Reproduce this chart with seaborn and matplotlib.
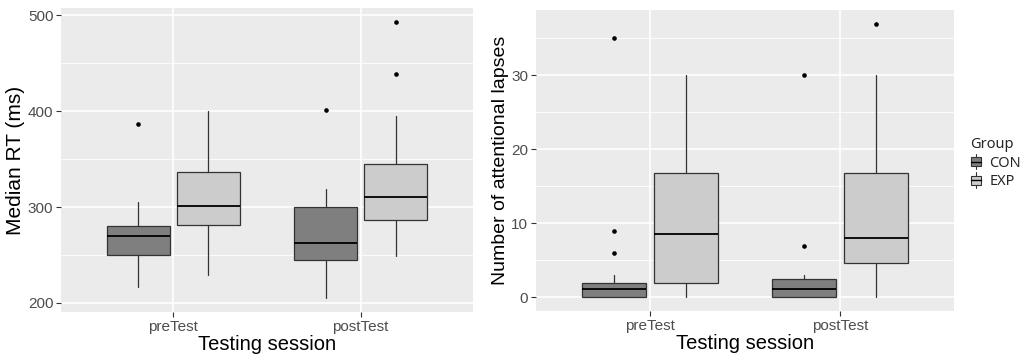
import matplotlib
matplotlib.use("Agg")
import matplotlib.pyplot as plt
from matplotlib.legend_handler import HandlerBase
from matplotlib.patches import Rectangle, Patch
from matplotlib.lines import Line2D
import numpy as np
import pandas as pd
import seaborn as sns

# ---------------- data ----------------
sessions = ["preTest", "postTest"]
groups = ["CON", "EXP"]
group_colors = ["#7F7F7F", "#CCCCCC"]

# order of boxes: preTest-CON, preTest-EXP, postTest-CON, postTest-EXP
rt_whislo = [217, 229, 205, 249]
rt_q1 = [250, 281, 245, 286]
rt_med = [270, 301, 263, 310]
rt_q3 = [280, 337, 300, 345]
rt_whishi = [305, 400, 319, 395]
rt_fliers = [[387], [], [401], [439, 493]]

lapse_whislo = [0, 0, 0, 0]
lapse_q1 = [0, 2, 0, 4.7]
lapse_med = [1.1, 8.5, 1.1, 8.05]
lapse_q3 = [2, 16.8, 2.5, 16.8]
lapse_whishi = [3, 30, 3, 30]
lapse_fliers = [[6, 9, 35], [], [7, 30], [37]]

rt_ticks = [200, 300, 400, 500]
lapse_ticks = [0, 10, 20, 30]

# ---------------- style ----------------
sns.set_theme(style="darkgrid", rc={
    "axes.facecolor": "#EBEBEB",
    "grid.color": "white",
})
plt.rcParams["font.family"] = ["Liberation Sans", "DejaVu Sans"]

fig = plt.figure(figsize=(10.21, 3.59), dpi=100)
ax1 = fig.add_axes([61 / 1021, 1 - 312 / 359, 412 / 1021, 304 / 359])
ax2 = fig.add_axes([536 / 1021, 1 - 311 / 359, 418 / 1021, 301 / 359])

dodge = 0.1875
box_w = 0.3375


def draw_panel(ax, whislo, q1, med, q3, whishi, fliers, ticks, ylabel, ylsize):
    stats = []
    positions = []
    colors = []
    flier_x, flier_y = [], []
    k = 0
    for si, s in enumerate(sessions):
        for gi, g in enumerate(groups):
            pos = si + 1 + (gi - 0.5) * 2 * dodge
            stats.append(dict(whislo=whislo[k], q1=q1[k], med=med[k], q3=q3[k],
                              whishi=whishi[k], fliers=[], label=f"{s}-{g}"))
            positions.append(pos)
            colors.append(group_colors[gi])
            for f in fliers[k]:
                flier_x.append(pos)
                flier_y.append(f)
            k += 1
    bp = ax.bxp(stats, positions=positions, widths=box_w, patch_artist=True,
                showfliers=False, showcaps=False,
                boxprops=dict(edgecolor="#333333", linewidth=0.9),
                whiskerprops=dict(color="#333333", linewidth=0.9),
                medianprops=dict(color="black", linewidth=1.3),
                manage_ticks=False, zorder=3)
    for patch, c in zip(bp["boxes"], colors):
        patch.set_facecolor(c)
    sns.scatterplot(x=flier_x, y=flier_y, ax=ax, color="black", s=11,
                    linewidth=0, legend=False, zorder=4)

    ax.set_xlim(0.4, 2.6)
    lo = min(whislo + [v for f in fliers for v in f])
    hi = max(whishi + [v for f in fliers for v in f])
    pad = (hi - lo) * 0.05
    ax.set_ylim(lo - pad, hi + pad)
    ax.set_xticks([1, 2])
    ax.set_xticklabels(sessions)
    ax.set_yticks(ticks)
    step = ticks[1] - ticks[0]
    minors = [t + step / 2 for t in ticks if lo - pad < t + step / 2 < hi + pad]
    ax.set_yticks(minors, minor=True)
    ax.grid(True, which="major", color="white", linewidth=1.2)
    ax.grid(True, which="minor", axis="y", color="white", linewidth=0.6)
    ax.set_axisbelow(True)
    for sp in ax.spines.values():
        sp.set_visible(False)
    ax.tick_params(axis="both", which="major", length=3.5, width=0.8,
                   color="#333333", labelcolor="#4D4D4D", labelsize=11, pad=2,
                   bottom=True, left=True)
    ax.tick_params(axis="both", which="minor", length=0)
    ax.set_xlabel("Testing session", fontsize=14.5, color="black", labelpad=1)
    ax.set_ylabel(ylabel, fontsize=ylsize, color="black", labelpad=2)


draw_panel(ax1, rt_whislo, rt_q1, rt_med, rt_q3, rt_whishi, rt_fliers,
           rt_ticks, "Median RT (ms)", 15)
draw_panel(ax2, lapse_whislo, lapse_q1, lapse_med, lapse_q3, lapse_whishi,
           lapse_fliers, lapse_ticks, "Number of attentional lapses", 14)


class BoxHandler(HandlerBase):
    def create_artists(self, legend, orig_handle, xdescent, ydescent, width,
                       height, fontsize, trans):
        x0, y0 = -xdescent, -ydescent
        cx = x0 + width / 2
        rect = Rectangle((x0 + width * 0.1, y0 + height * 0.15), width * 0.8,
                         height * 0.7, facecolor=orig_handle.get_facecolor(),
                         edgecolor="#333333", linewidth=0.8, transform=trans)
        med = Line2D([x0 + width * 0.1, x0 + width * 0.9],
                     [y0 + height * 0.5] * 2, color="black", linewidth=1.0,
                     transform=trans)
        wl = Line2D([cx, cx], [y0 - height * 0.1, y0 + height * 0.15],
                    color="#333333", linewidth=0.8, transform=trans)
        wh = Line2D([cx, cx], [y0 + height * 0.85, y0 + height * 1.1],
                    color="#333333", linewidth=0.8, transform=trans)
        return [wl, wh, rect, med]


handles = [Patch(facecolor=c) for c in group_colors]
leg = fig.legend(handles, groups, title="Group",
                 handler_map={Patch: BoxHandler()},
                 loc="upper left", bbox_to_anchor=(960 / 1021, 1 - 127 / 359),
                 frameon=False,
                 handlelength=0.8, handleheight=1.0, handletextpad=0.5,
                 labelspacing=0.2, borderpad=0.2,
                 prop={"family": "Noto Sans", "size": 10.5})
leg.get_title().set_family("Noto Sans")
leg.get_title().set_fontsize(10.5)
leg._legend_box.align = "left"

fig.savefig("out.png", dpi=100)
